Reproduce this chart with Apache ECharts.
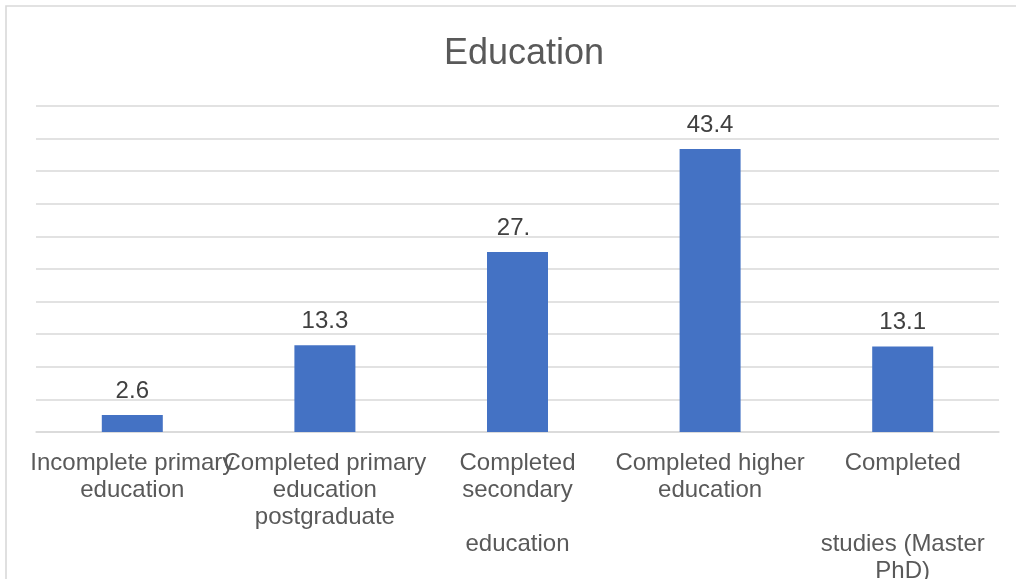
<!DOCTYPE html>
<html>
<head>
<meta charset="utf-8">
<title>Education</title>
<script src="https://cdn.jsdelivr.net/npm/echarts@6/dist/echarts.min.js"></script>
<style>
  html, body { margin: 0; padding: 0; background: #ffffff; }
  #chart { width: 1016px; height: 579px; }
</style>
</head>
<body>
<div id="chart"></div>
<script>
// Category names, with the line breaks used in the axis labels
const categories = [
  'Incomplete primary\neducation',
  'Completed primary\neducation\npostgraduate',
  'Completed\nsecondary\n\neducation',
  'Completed higher\neducation',
  'Completed\n\n\nstudies (Master\nPhD)'
];

// Share of respondents, percent
const values = [2.6, 13.3, 27.6, 43.4, 13.1];

// Value axis range and grid spacing
const axisMin = 0;
const axisMax = 50;
const axisStep = 5;

const textColor = '#595959';
const gridColor = '#d9d9d9';
const barColor = '#4472c4';
const font = '"Liberation Sans", Arial, sans-serif';

const chart = echarts.init(document.getElementById('chart'), null, { renderer: 'canvas' });

// The third value label sits in a narrow box and loses its last digit
const seriesData = values.map((v, i) => {
  if (i === 2) {
    return {
      value: v,
      label: { width: 40, overflow: 'truncate', ellipsis: '', offset: [-4, 0] }
    };
  }
  return v;
});

chart.setOption({
  animation: false,
  backgroundColor: '#ffffff',
  title: {
    text: 'Education',
    left: 519,
    top: 31,
    textAlign: 'center',
    textStyle: { color: textColor, fontSize: 36, fontWeight: 'normal', fontFamily: font }
  },
  graphic: [{
    type: 'rect',
    silent: true,
    shape: { x: 6, y: 6, width: 1200, height: 1000 },
    style: { fill: 'none', stroke: gridColor, lineWidth: 1.6 }
  }],
  grid: {
    left: 36, right: 17, top: 106, bottom: 147,
    containLabel: false,
    outerBoundsMode: 'none'
  },
  xAxis: {
    type: 'category',
    data: categories,
    axisLine: { show: true, lineStyle: { color: gridColor, width: 1.5 } },
    axisTick: { show: false },
    axisLabel: {
      interval: 0,
      margin: 18,
      color: textColor,
      fontSize: 24,
      lineHeight: 27,
      fontFamily: font,
      align: 'center'
    }
  },
  yAxis: {
    type: 'value',
    min: axisMin,
    max: axisMax,
    interval: axisStep,
    axisLabel: { show: false },
    axisLine: { show: false },
    axisTick: { show: false },
    splitLine: { show: true, lineStyle: { color: gridColor, width: 1.5 } }
  },
  series: [{
    type: 'bar',
    data: seriesData,
    barWidth: 61,
    itemStyle: { color: barColor },
    label: {
      show: true,
      position: 'top',
      distance: 12,
      color: '#404040',
      fontSize: 24,
      fontFamily: font
    }
  }]
});
</script>
</body>
</html>
